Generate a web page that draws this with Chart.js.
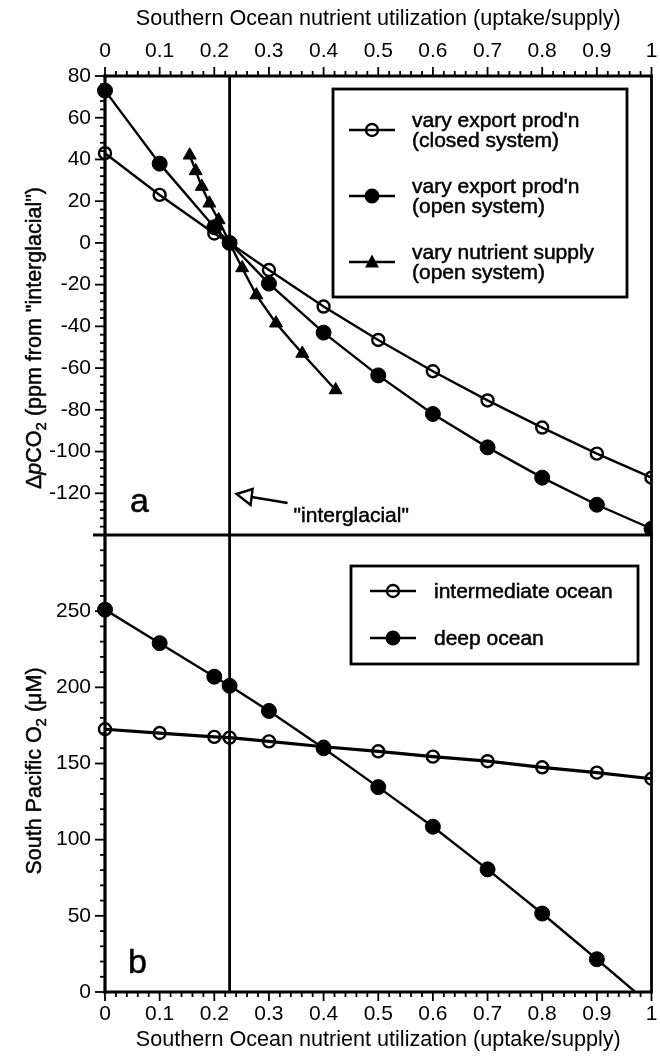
<!DOCTYPE html>
<html>
<head>
<meta charset="utf-8">
<script src="https://cdn.jsdelivr.net/npm/chart.js@4"></script>
<style>
  html, body { margin: 0; padding: 0; background: #fff; }
  #wrap { position: relative; width: 660px; height: 1057px; }
  canvas { position: absolute; left: 0; }
  #chart-co2 { top: 0; }
  #chart-o2 { top: 525px; }
</style>
</head>
<body>
<div id="wrap">
  <canvas id="chart-co2" width="660" height="545"></canvas>
  <canvas id="chart-o2" width="660" height="532"></canvas>
</div>
<script>
const FONT = "'Liberation Sans', Arial, Helvetica, sans-serif";
const INK = '#000';

// Southern Ocean nutrient utilization (uptake/supply) of each model run
const utilization = [0, 0.1, 0.2, 0.228, 0.3, 0.4, 0.5, 0.6, 0.7, 0.8, 0.9, 1.0];
const interglacialUtil = 0.228;

// panel a: change in atmospheric pCO2 (ppm from "interglacial")
const co2ExportClosed = [43, 23, 4.5, 0, -13, -30.5, -46.5, -61.5, -75.5, -88.5, -101, -112.5];
const co2ExportOpen = [73, 38, 7.5, 0, -19.5, -43, -63.5, -82, -98, -112.5, -125.5, -137];
const supplyUtilization = [0.155, 0.166, 0.177, 0.191, 0.208, 0.228, 0.251, 0.277, 0.313, 0.361, 0.422];
const co2SupplyOpen = [42, 34.5, 27, 19, 11, 0, -12, -25, -38.5, -53, -70.5];

// panel b: South Pacific O2 (uM)
const o2Intermediate = [172.5, 170, 167.5, 167, 164.5, 161, 158, 154.5, 151.5, 147.5, 144, 140];
const o2Deep = [251, 229, 207, 201, 184.5, 160, 134.5, 108.5, 80.5, 51.5, 21.5, -9];

// axis ranges and tick steps
const utilRange = [0, 1];
const utilMajor = 0.1;
const utilMinorPerMajor = 5;
const co2Range = [-140, 80];
const co2Major = 20;
const co2Minor = 4;
const o2Range = [0, 300];
const o2Major = 50;
const o2Minor = 10;

const AXIS_TITLE = 'Southern Ocean nutrient utilization (uptake/supply)';

function pairs(xs, ys) {
    return xs.map(function (x, i) {
        return { x: x, y: ys[i] };
    });
}

function seg(ctx, x1, y1, x2, y2, w) {
    ctx.lineWidth = w;
    ctx.beginPath();
    ctx.moveTo(x1, y1);
    ctx.lineTo(x2, y2);
    ctx.stroke();
}

function utilLabel(v) {
    const r = Math.round(v * 100) / 100;
    return Math.abs(r * 10 - Math.round(r * 10)) < 1e-6 ? String(Math.round(r * 10) / 10) : '';
}

function drawXTicks(ctx, scale, edgeY, dir) {
    const n = Math.round((utilRange[1] - utilRange[0]) / utilMajor) * utilMinorPerMajor;
    for (let i = 0; i <= n; i++) {
        const v = utilRange[0] + (i / n) * (utilRange[1] - utilRange[0]);
        const x = scale.getPixelForValue(v);
        const len = i % utilMinorPerMajor === 0 ? 9 : 5;
        seg(ctx, x, edgeY, x, edgeY + dir * len, 1.8);
    }
}

function drawYTicks(ctx, scale, range, minor, major, edgeX) {
    for (let v = range[0]; v <= range[1]; v += minor) {
        const y = scale.getPixelForValue(v);
        const len = v % major === 0 ? 10 : 5;
        seg(ctx, edgeX, y, edgeX - len, y, 1.8);
    }
}

// marker used in lines, legend keys included
function drawMarker(ctx, kind, x, y) {
    ctx.save();
    ctx.fillStyle = INK;
    ctx.strokeStyle = INK;
    ctx.lineWidth = 2.4;
    ctx.beginPath();
    if (kind === 'open') {
        ctx.arc(x, y, 6, 0, Math.PI * 2);
        ctx.fillStyle = '#fff';
        ctx.fill();
        ctx.stroke();
        seg(ctx, x - 6, y, x + 6, y, 2.4);
    } else if (kind === 'filled') {
        ctx.arc(x, y, 7.5, 0, Math.PI * 2);
        ctx.fill();
    } else {
        ctx.moveTo(x, y - 7.5);
        ctx.lineTo(x + 7, y + 5.5);
        ctx.lineTo(x - 7, y + 5.5);
        ctx.closePath();
        ctx.fill();
    }
    ctx.restore();
}

// text drawn with a thin outline so it carries the same weight as the lines
function inkText(ctx, t, x, y) {
    ctx.fillText(t, x, y);
    ctx.lineWidth = 0.5;
    ctx.strokeText(t, x, y);
}

function drawLegend(ctx, box, entries) {
    ctx.save();
    ctx.fillStyle = '#fff';
    ctx.fillRect(box.x, box.y, box.w, box.h);
    ctx.strokeStyle = INK;
    ctx.lineWidth = 2.8;
    ctx.strokeRect(box.x, box.y, box.w, box.h);
    ctx.font = '21px ' + FONT;
    ctx.textBaseline = 'middle';
    ctx.textAlign = 'left';
    entries.forEach(function (e) {
        ctx.strokeStyle = INK;
        seg(ctx, box.keyX, e.y, box.keyX + 46, e.y, 2.4);
        drawMarker(ctx, e.kind, box.keyX + 23, e.y);
        ctx.fillStyle = INK;
        e.lines.forEach(function (t, i) {
            inkText(ctx, t, box.textX, e.y + (i - (e.lines.length - 1) / 2) * 19.5 + 1);
        });
    });
    ctx.restore();
}

// rotated axis title with italic / subscript pieces
function drawRichVertical(ctx, parts, cx, cy) {
    const size = 21.5;
    ctx.save();
    ctx.translate(cx, cy);
    ctx.rotate(-Math.PI / 2);
    ctx.fillStyle = INK;
    ctx.strokeStyle = INK;
    ctx.textBaseline = 'alphabetic';
    ctx.textAlign = 'left';
    const fontFor = function (p) {
        return (p.italic ? 'italic ' : '') + (p.sub ? Math.round(size * 0.7) : size) + 'px ' + FONT;
    };
    let total = 0;
    parts.forEach(function (p) {
        ctx.font = fontFor(p);
        total += ctx.measureText(p.t).width;
    });
    let x = -total / 2;
    parts.forEach(function (p) {
        ctx.font = fontFor(p);
        inkText(ctx, p.t, x, size * 0.36 + (p.sub ? 5 : 0));
        x += ctx.measureText(p.t).width;
    });
    ctx.restore();
}

function frameAndTicks(chart, opts) {
    const ctx = chart.ctx;
    const a = chart.chartArea;
    const xs = chart.scales.x;
    const ys = chart.scales.y;
    ctx.save();
    ctx.strokeStyle = INK;
    ctx.lineCap = 'butt';
    // interglacial reference line
    const xi = xs.getPixelForValue(interglacialUtil);
    seg(ctx, xi, a.top, xi, a.bottom, 2.8);
    // frame
    seg(ctx, a.left, a.top - (opts.top ? 1.5 : 0), a.left, a.bottom + (opts.top ? 0 : 1.5), 3.2);
    seg(ctx, a.right, a.top, a.right, a.bottom, 2.8);
    if (opts.top) {
        seg(ctx, a.left - 1.5, a.top, a.right + 1.4, a.top, 3.2);
        seg(ctx, a.left - 12, a.bottom, a.right + 1.4, a.bottom, 3.2);
        drawXTicks(ctx, xs, a.top, -1);
    } else {
        seg(ctx, a.left - 1.5, a.bottom, a.right + 1.4, a.bottom, 3.2);
        drawXTicks(ctx, xs, a.bottom, 1);
    }
    drawYTicks(ctx, ys, opts.range, opts.minor, opts.major, a.left);
    ctx.restore();
}

const pointClip = { left: 10, top: 10, right: 0, bottom: 0 };

function lineSet(label, points, kind, width) {
    const open = kind === 'open';
    return {
        label: label,
        data: points,
        borderColor: INK,
        borderWidth: width || 2.4,
        tension: 0,
        clip: pointClip,
        pointStyle: kind === 'triangle' ? 'triangle' : 'circle',
        pointRadius: open ? 6 : 7.5,
        pointBorderWidth: open ? 2.4 : 1,
        pointBorderColor: INK,
        pointBackgroundColor: open ? 'rgba(0,0,0,0)' : INK,
    };
}

// label overhang would otherwise shrink the plot box
function noScalePadding(scale) {
    scale.paddingLeft = 0;
    scale.paddingRight = 0;
    scale.paddingTop = 0;
    scale.paddingBottom = 0;
}

function utilAxis(position, labelPadding, titlePadding, height) {
    return {
        type: 'linear',
        position: position,
        min: utilRange[0],
        max: utilRange[1],
        grid: { display: false, drawTicks: false },
        border: { display: false },
        ticks: {
            stepSize: utilMajor,
            autoSkip: false,
            maxRotation: 0,
            padding: labelPadding,
            color: INK,
            font: { family: FONT, size: 21 },
            callback: function (v) {
                return utilLabel(v);
            },
        },
        title: {
            display: true,
            text: AXIS_TITLE,
            color: INK,
            font: { family: FONT, size: 21.6 },
            padding: titlePadding,
        },
        afterFit: function (scale) {
            noScalePadding(scale);
            scale.height = height;
        },
    };
}

function valueAxis(range, step) {
    return {
        type: 'linear',
        position: 'left',
        min: range[0],
        max: range[1],
        grid: { display: false, drawTicks: false },
        border: { display: false },
        ticks: {
            stepSize: step,
            padding: 14,
            color: INK,
            font: { family: FONT, size: 21 },
            callback: function (v) {
                return v === range[0] && range[0] < 0 ? '' : v === range[1] && range[0] === 0 ? '' : String(v);
            },
        },
        afterFit: function (scale) {
            noScalePadding(scale);
            scale.width = 105;
        },
    };
}

const baseOptions = {
    responsive: false,
    animation: false,
    devicePixelRatio: 1,
    events: [],
    plugins: { legend: { display: false }, tooltip: { enabled: false } },
};

const co2Decor = {
    id: 'co2Decor',
    afterDatasetsDraw: function (chart) {
        const ctx = chart.ctx;
        const a = chart.chartArea;
        frameAndTicks(chart, { top: true, range: co2Range, minor: co2Minor, major: co2Major });
        drawLegend(ctx, { x: 333, y: 89, w: 294, h: 208, keyX: 349, textX: 412 }, [
            { kind: 'open', y: 130, lines: ["vary export prod'n", '(closed system)'] },
            { kind: 'filled', y: 196, lines: ["vary export prod'n", '(open system)'] },
            { kind: 'triangle', y: 262, lines: ['vary nutrient supply', '(open system)'] },
        ]);
        ctx.save();
        ctx.fillStyle = INK;
        ctx.strokeStyle = INK;
        ctx.font = '34px ' + FONT;
        ctx.textBaseline = 'alphabetic';
        inkText(ctx, 'a', a.left + 25, a.bottom - 23);
        // arrow pointing at the interglacial line
        const tipX = chart.scales.x.getPixelForValue(interglacialUtil) + 7;
        const tipY = a.bottom - 41;
        seg(ctx, tipX + 15, tipY + 3, tipX + 51, tipY + 9, 2.6);
        ctx.lineWidth = 2.4;
        ctx.beginPath();
        ctx.moveTo(tipX, tipY);
        ctx.lineTo(tipX + 16, tipY - 5);
        ctx.lineTo(tipX + 14, tipY + 11);
        ctx.closePath();
        ctx.fillStyle = '#fff';
        ctx.fill();
        ctx.stroke();
        ctx.fillStyle = INK;
        ctx.font = '21px ' + FONT;
        inkText(ctx, '"interglacial"', tipX + 57, a.bottom - 13);
        ctx.restore();
        drawRichVertical(ctx, [
            { t: '\u0394' }, { t: 'p', italic: true }, { t: 'CO' }, { t: '2', sub: true },
            { t: ' (ppm from "interglacial")' },
        ], 33, 338);
    },
};

const o2Decor = {
    id: 'o2Decor',
    afterDatasetsDraw: function (chart) {
        const ctx = chart.ctx;
        const a = chart.chartArea;
        frameAndTicks(chart, { top: false, range: o2Range, minor: o2Minor, major: o2Major });
        drawLegend(ctx, { x: 351, y: 41, w: 287, h: 98, keyX: 370, textX: 434 }, [
            { kind: 'open', y: 66, lines: ['intermediate ocean'] },
            { kind: 'filled', y: 113, lines: ['deep ocean'] },
        ]);
        ctx.save();
        ctx.fillStyle = INK;
        ctx.strokeStyle = INK;
        ctx.font = '34px ' + FONT;
        ctx.textBaseline = 'alphabetic';
        inkText(ctx, 'b', a.left + 23, a.bottom - 19);
        ctx.restore();
        drawRichVertical(ctx, [
            { t: 'South Pacific O' }, { t: '2', sub: true }, { t: ' (\u03bcM)' },
        ], 33, 246);
    },
};

new Chart(document.getElementById('chart-co2'), {
    type: 'line',
    data: {
        datasets: [
            lineSet("vary export prod'n (closed system)", pairs(utilization, co2ExportClosed), 'open'),
            lineSet("vary export prod'n (open system)", pairs(utilization, co2ExportOpen), 'filled'),
            lineSet('vary nutrient supply (open system)', pairs(supplyUtilization, co2SupplyOpen), 'triangle'),
        ],
    },
    options: Object.assign({}, baseOptions, {
        layout: { padding: { left: 0, right: 6, top: 0, bottom: 10 } },
        scales: {
            x: utilAxis('top', 12, { top: 6, bottom: 0 }, 76),
            y: valueAxis(co2Range, co2Major),
        },
    }),
    plugins: [co2Decor],
});

new Chart(document.getElementById('chart-o2'), {
    type: 'line',
    data: {
        datasets: [
            lineSet('intermediate ocean', pairs(utilization, o2Intermediate), 'open', 3.2),
            lineSet('deep ocean', pairs(utilization, o2Deep), 'filled'),
        ],
    },
    options: Object.assign({}, baseOptions, {
        layout: { padding: { left: 0, right: 6, top: 10, bottom: 0 } },
        scales: {
            x: utilAxis('bottom', 10, { top: 0, bottom: 4 }, 65),
            y: valueAxis(o2Range, o2Major),
        },
    }),
    plugins: [o2Decor],
});
</script>
</body>
</html>
